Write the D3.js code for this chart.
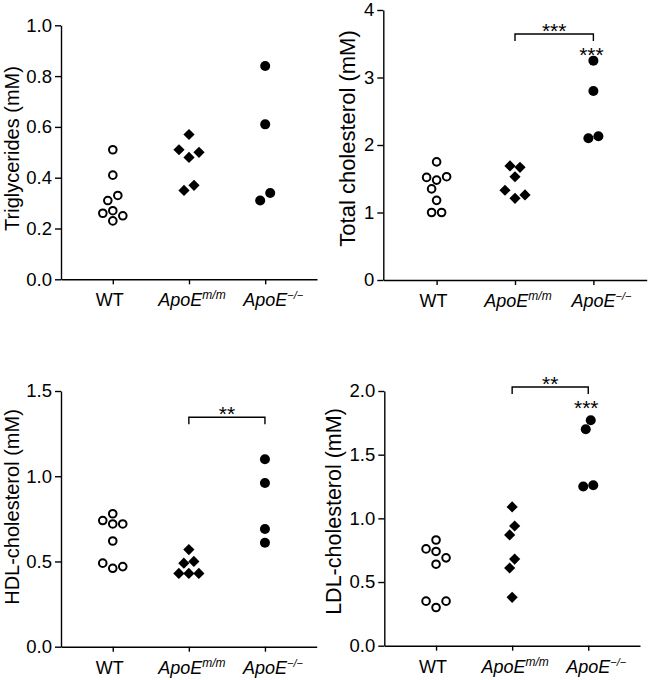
<!DOCTYPE html>
<html><head><meta charset="utf-8">
<script src="https://cdn.jsdelivr.net/npm/d3@7"></script>
<style>
body{margin:0;background:#fff}
svg{display:block}
text{font-family:"Liberation Sans",Arial,Helvetica,sans-serif;fill:#000}
</style>
</head><body>
<svg id="chart" width="650" height="680"></svg>
<script>
// ---------- data ----------
const groupBase = ["WT", "ApoE", "ApoE"];
const groupSup = ["", "m/m", "\u2212/\u2212"];
const groupMarker = ["open", "diamond", "filled"];

const tgWT = [0.51, 0.41, 0.33, 0.31, 0.27, 0.26, 0.25, 0.23];
const tgMM = [0.57, 0.51, 0.50, 0.48, 0.37, 0.35];
const tgKO = [0.84, 0.61, 0.34, 0.31];

const tcWT = [1.75, 1.53, 1.52, 1.48, 1.35, 1.18, 1.00, 1.00];
const tcMM = [1.69, 1.67, 1.53, 1.33, 1.26, 1.21];
const tcKO = [3.25, 2.80, 2.13, 2.10];

const hdlWT = [0.78, 0.74, 0.72, 0.72, 0.62, 0.49, 0.47, 0.46];
const hdlMM = [0.57, 0.50, 0.49, 0.43, 0.43, 0.43];
const hdlKO = [1.10, 0.96, 0.69, 0.61];

const ldlWT = [0.83, 0.76, 0.74, 0.69, 0.64, 0.35, 0.35, 0.30];
const ldlMM = [1.09, 0.94, 0.87, 0.68, 0.61, 0.38];
const ldlKO = [1.77, 1.70, 1.26, 1.25];

const tgTicks = [0, 0.2, 0.4, 0.6, 0.8, 1.0];
const tcTicks = [0, 1, 2, 3, 4];
const hdlTicks = [0, 0.5, 1.0, 1.5];
const ldlTicks = [0, 0.5, 1.0, 1.5, 2.0];

const titles = ["Triglycerides (mM)", "Total cholesterol (mM)", "HDL-cholesterol (mM)", "LDL-cholesterol (mM)"];
const bracketLabels = [null, "***", "**", "**"];
const koLabels = [null, "***", null, "***"];

// ---------- layout ----------
const panels = [
  {title: titles[0], groups: [tgWT, tgMM, tgKO], ticks: tgTicks, fmt: ".1f",
   x0: 61, x1: 317, yTop: 25.3, yBot: 279.3, titleX: 18.5, titleY: 148.5, titleSize: 20,
   bracket: bracketLabels[0], bracketY: null, ko: koLabels[0], koGap: 0},
  {title: titles[1], groups: [tcWT, tcMM, tcKO], ticks: tcTicks, fmt: "d",
   x0: 383.3, x1: 646.7, yTop: 10, yBot: 280, titleX: 355, titleY: 138.5, titleSize: 22,
   bracket: bracketLabels[1], bracketY: 34, ko: koLabels[1], koGap: 9.7},
  {title: titles[2], groups: [hdlWT, hdlMM, hdlKO], ticks: hdlTicks, fmt: ".1f",
   x0: 61, x1: 316.7, yTop: 391, yBot: 646.7, titleX: 18.5, titleY: 507, titleSize: 20,
   bracket: bracketLabels[2], bracketY: 417.3, ko: koLabels[2], koGap: 0},
  {title: titles[3], groups: [ldlWT, ldlMM, ldlKO], ticks: ldlTicks, fmt: ".1f",
   x0: 384.3, x1: 640, yTop: 391, yBot: 645.7, titleX: 340.5, titleY: 511.5, titleSize: 21.5,
   bracket: bracketLabels[3], bracketY: 387, ko: koLabels[3], koGap: 16}
];
const labelShift = [-3, 3, 8];
const starSize = 21;

const svg = d3.select("#chart");

function swarm(vals, y, d, step) {
  const items = vals.map((v, i) => ({v, i, py: y(v), dx: 0}));
  const order = items.slice().sort((a, b) => b.py - a.py);
  const cands = [0];
  for (let k = 1; k <= 8; k++) cands.push(k * step, -k * step);
  const placed = [];
  for (const it of order) {
    for (const c of cands) {
      if (placed.every(p => (p.dx - c) ** 2 + (p.py - it.py) ** 2 >= d * d - 0.01)) { it.dx = c; break; }
    }
    placed.push(it);
  }
  const clusters = [];
  let cl = [order[0]];
  for (let j = 1; j < order.length; j++) {
    if (order[j - 1].py - order[j].py < d) cl.push(order[j]);
    else { clusters.push(cl); cl = [order[j]]; }
  }
  clusters.push(cl);
  clusters.forEach(c => {
    const s = (d3.min(c, p => p.dx) + d3.max(c, p => p.dx)) / 2;
    c.forEach(p => p.dx -= s);
  });
  return items;
}

panels.forEach(P => {
  const g = svg.append("g");
  const y = d3.scaleLinear().domain([P.ticks[0], P.ticks[P.ticks.length - 1]]).range([P.yBot, P.yTop]);
  const x = d3.scalePoint().domain([0, 1, 2]).range([P.x0, P.x1]).padding(0.68);

  // y axis
  const yAxis = g.append("g").attr("transform", `translate(${P.x0},0)`)
    .call(d3.axisLeft(y).tickValues(P.ticks).tickFormat(d3.format(P.fmt)).tickSize(6).tickSizeOuter(0).tickPadding(3));
  yAxis.selectAll("path,line").attr("stroke", "#000").attr("stroke-width", 1.4);
  yAxis.selectAll("text").style("font-size", "18.5px").attr("fill", "#000");

  // x axis
  const xAxis = g.append("g").attr("transform", `translate(0,${P.yBot})`)
    .call(d3.axisBottom(x).tickSize(5).tickSizeOuter(0).tickFormat(""));
  xAxis.selectAll("path,line").attr("stroke", "#000").attr("stroke-width", 1.4);
  xAxis.selectAll("text").remove();
  [0, 1, 2].forEach(k => {
    const t = g.append("text")
      .attr("x", x(k) + labelShift[k]).attr("y", P.yBot + 27)
      .attr("text-anchor", "middle").style("font-size", "18px");
    t.append("tspan").text(groupBase[k]).style("font-style", k ? "italic" : "normal");
    if (groupSup[k]) t.append("tspan").text(groupSup[k]).attr("dy", -7)
      .style("font-size", k === 1 ? "12px" : "11px").style("font-style", "italic");
  });

  // title
  g.append("text")
    .attr("transform", `translate(${P.titleX},${P.titleY}) rotate(-90)`)
    .attr("text-anchor", "middle").style("font-size", P.titleSize + "px").text(P.title);

  // points
  P.groups.forEach((vals, k) => {
    const pts = swarm(vals, y, 10, 5);
    const cx = x(k);
    const m = groupMarker[k];
    if (m === "diamond") {
      g.selectAll(null).data(pts).enter().append("path")
        .attr("d", "M0,-5.6L5.6,0L0,5.6L-5.6,0Z")
        .attr("transform", d => `translate(${cx + d.dx},${d.py})`)
        .attr("fill", "#000");
    } else {
      g.selectAll(null).data(pts).enter().append("circle")
        .attr("cx", d => cx + d.dx).attr("cy", d => d.py)
        .attr("r", m === "open" ? 3.8 : 5)
        .attr("fill", m === "open" ? "#fff" : "#000")
        .attr("stroke", "#000").attr("stroke-width", m === "open" ? 2 : 0);
    }
  });

  // significance bracket
  if (P.bracket) {
    const bx0 = x(1), bx1 = x(2), by = P.bracketY;
    g.append("path")
      .attr("d", `M${bx0},${by + 7}V${by}H${bx1}V${by + 7}`)
      .attr("fill", "none").attr("stroke", "#000").attr("stroke-width", 1.4);
    g.append("text").attr("x", (bx0 + bx1) / 2).attr("y", by + 3.5)
      .attr("text-anchor", "middle").style("font-size", starSize + "px").text(P.bracket);
  }
  if (P.ko) {
    const top = y(d3.max(P.groups[2]));
    g.append("text").attr("x", x(2) - 2).attr("y", top - P.koGap + 11)
      .attr("text-anchor", "middle").style("font-size", starSize + "px").text(P.ko);
  }
});
</script>
</body></html>
